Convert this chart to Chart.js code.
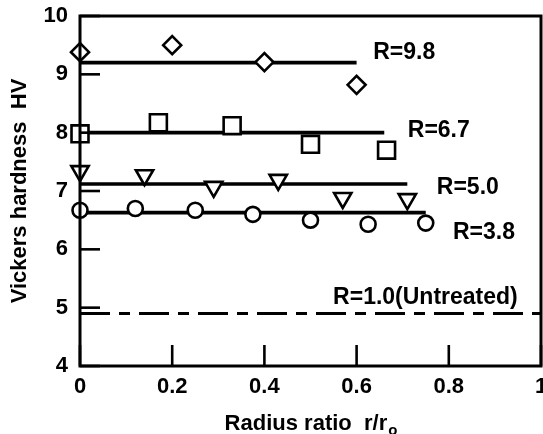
<!DOCTYPE html>
<html>
<head>
<meta charset="utf-8">
<script src="https://cdn.jsdelivr.net/npm/chart.js@4"></script>
<style>
  html, body { margin: 0; padding: 0; background: #fff; }
  #wrap { width: 543px; height: 434px; }
</style>
</head>
<body>
<div id="wrap"><canvas id="hv"></canvas></div>
<script>
"use strict";

/* ── Data ─────────────────────────────────────────────────────────────── */
const xR98 = [0, 0.2, 0.4, 0.6];
const yR98 = [9.38, 9.5, 9.21, 8.82];
const xR67 = [0, 0.17, 0.33, 0.5, 0.665];
const yR67 = [7.98, 8.17, 8.12, 7.8, 7.7];
const xR50 = [0, 0.14, 0.29, 0.43, 0.57, 0.71];
const yR50 = [7.34, 7.27, 7.07, 7.19, 6.88, 6.86];
const xR38 = [0, 0.12, 0.25, 0.375, 0.5, 0.625, 0.75];
const yR38 = [6.67, 6.7, 6.67, 6.6, 6.5, 6.43, 6.45];

// mean lines: [xStart, xEnd], level
const fitX = { r98: [0, 0.6], r67: [0, 0.66], r50: [0, 0.71], r38: [0, 0.75], r10: [0, 1] };
const fitY = { r98: 9.2, r67: 8.0, r50: 7.12, r38: 6.63, r10: 4.9 };

const xTicks = [0, 0.2, 0.4, 0.6, 0.8, 1];
const yTicks = [4, 5, 6, 7, 8, 9, 10];

// curve labels, anchored in data units (left edge, vertical centre)
const labelText = ["R=9.8", "R=6.7", "R=5.0", "R=3.8", "R=1.0(Untreated)"];
const labelX = [0.636, 0.711, 0.774, 0.809, 0.549];
const labelY = [9.37, 8.04, 7.05, 6.28, 5.18];

/* ── Helpers ─────────────────────────────────────────────────────────── */
const pts = (xs, ys) => xs.map((x, i) => ({ x, y: ys[i] }));
const flat = (key) => fitX[key].map((x) => ({ x, y: fitY[key] }));

function markers(data, style, radius, rotation) {
  return {
    data,
    showLine: false,
    pointStyle: style,
    pointRadius: radius,
    pointRotation: rotation || 0,
    pointBackgroundColor: "#fff",
    pointBorderColor: "#000",
    pointBorderWidth: 2.6,
    clip: false,
  };
}

function fitLine(data, dash) {
  return {
    data,
    showLine: true,
    borderColor: "#000",
    borderWidth: dash ? 3.2 : 3.6,
    borderDash: dash || [],
    pointRadius: 0,
    clip: false,
  };
}

const FONT = "'Liberation Sans', Arial, sans-serif";

/* ── Plugin: frame, inner ticks, labels, x title ─────────────────────── */
const decor = {
  id: "decor",
  afterDatasetsDraw(chart) {
    const { ctx, chartArea: a, scales: { x, y } } = chart;
    ctx.save();
    ctx.strokeStyle = "#000";
    ctx.lineWidth = 3;
    ctx.strokeRect(a.left, a.top, a.right - a.left, a.bottom - a.top);

    ctx.lineWidth = 2.6;
    yTicks.forEach((v) => {
      const py = y.getPixelForValue(v);
      ctx.beginPath();
      ctx.moveTo(a.left, py);
      ctx.lineTo(a.left + 20, py);
      ctx.stroke();
    });
    xTicks.forEach((v) => {
      const px = x.getPixelForValue(v);
      ctx.beginPath();
      ctx.moveTo(px, a.bottom);
      ctx.lineTo(px, a.bottom - 21);
      ctx.stroke();
    });

    ctx.fillStyle = "#000";
    ctx.font = "bold 23px " + FONT;
    ctx.textBaseline = "middle";
    ctx.textAlign = "left";
    labelText.forEach((t, i) => {
      ctx.fillText(t, x.getPixelForValue(labelX[i]), y.getPixelForValue(labelY[i]));
    });

    // x axis title with subscript
    const main = "Radius ratio  r/r";
    ctx.font = "bold 22px " + FONT;
    const w1 = ctx.measureText(main).width;
    ctx.font = "bold 15px " + FONT;
    const w2 = ctx.measureText("o").width;
    const cx = (a.left + a.right) / 2;
    const start = cx - (w1 + w2) / 2;
    ctx.textBaseline = "alphabetic";
    ctx.font = "bold 22px " + FONT;
    ctx.fillText(main, start, 430);
    ctx.font = "bold 15px " + FONT;
    ctx.fillText("o", start + w1 + 1, 435);
    ctx.restore();
  },
};

/* ── Chart ───────────────────────────────────────────────────────────── */
function initHardnessChart() {
  const canvas = document.getElementById("hv");
  new Chart(canvas.getContext("2d"), {
    type: "scatter",
    data: {
      datasets: [
        markers(pts(xR98, yR98), "rectRot", 9),
        markers(pts(xR67, yR67), "rect", 12),
        markers(pts(xR50, yR50), "triangle", 10, 180),
        markers(pts(xR38, yR38), "circle", 7.5),
        fitLine(flat("r98")),
        fitLine(flat("r67")),
        fitLine(flat("r50")),
        fitLine(flat("r38")),
        fitLine(flat("r10"), [30, 9, 11, 9]),
      ],
    },
    options: {
      responsive: true,
      maintainAspectRatio: false,
      animation: false,
      layout: { autoPadding: false, padding: { top: 16, right: 2, left: 0, bottom: 0 } },
      plugins: { legend: { display: false }, tooltip: { enabled: false } },
      scales: {
        x: {
          type: "linear",
          min: 0,
          max: 1,
          afterBuildTicks: (s) => { s.ticks = xTicks.map((v) => ({ value: v })); },
          afterFit: (s) => { s.height = 68; s.paddingRight = 0; s.paddingLeft = 0; },
          grid: { display: false, drawTicks: false },
          border: { display: false },
          ticks: {
            padding: 8,
            color: "#000",
            font: { family: FONT, size: 22, weight: "bold" },
            callback: (v) => String(v),
          },
        },
        y: {
          type: "linear",
          min: 4,
          max: 10,
          afterBuildTicks: (s) => { s.ticks = yTicks.map((v) => ({ value: v })); },
          afterFit: (s) => { s.width = 80; s.paddingTop = 0; s.paddingBottom = 0; },
          grid: { display: false, drawTicks: false },
          border: { display: false },
          title: {
            display: true,
            text: "Vickers hardness  HV",
            color: "#000",
            padding: { top: 7, bottom: 0 },
            font: { family: FONT, size: 22, weight: "bold" },
          },
          ticks: {
            padding: 12,
            color: "#000",
            font: { family: FONT, size: 22, weight: "bold" },
          },
        },
      },
    },
    plugins: [decor],
  });
}

document.addEventListener("DOMContentLoaded", initHardnessChart);
</script>
</body>
</html>
